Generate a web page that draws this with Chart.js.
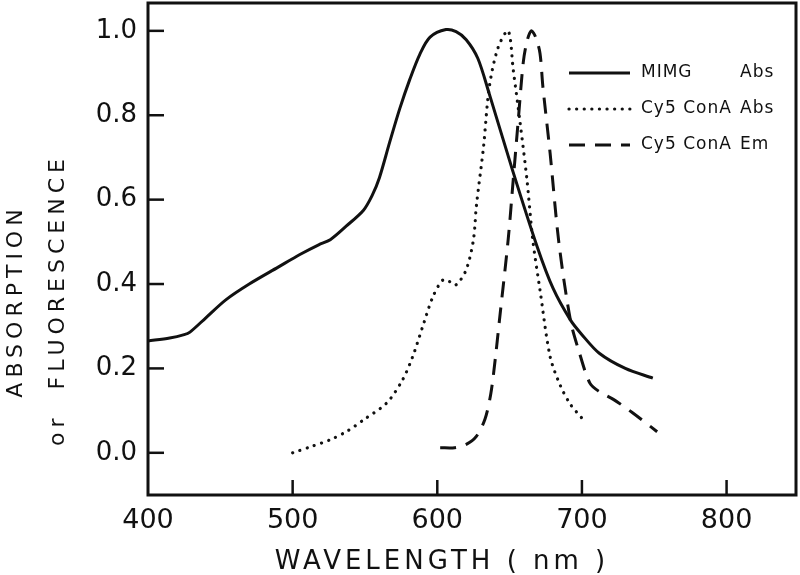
<!DOCTYPE html>
<html lang="en">
<head>
  <meta charset="UTF-8">
  <title>Absorption / Fluorescence spectra</title>
  <script src="https://cdn.jsdelivr.net/npm/chart.js"></script>
  <style>
    body { margin: 0; background: #fff; }
    canvas { display: block; }
  </style>
</head>
<body>
  <canvas id="spectraChart" width="800" height="575"></canvas>

  <script>
    // Wavelength (nm) and relative intensity for each curve
    const mimgWl  = [400, 415, 425, 429, 440, 454, 470, 490, 505, 518, 526, 537, 549, 555, 560, 567, 574, 581, 588, 595, 606, 613, 620, 628, 636, 652, 669, 680, 692, 700, 712, 730, 749];
    const mimgAbs = [0.265, 0.272, 0.28, 0.286, 0.32, 0.363, 0.40, 0.44, 0.47, 0.493, 0.505, 0.537, 0.575, 0.61, 0.652, 0.735, 0.815, 0.885, 0.945, 0.985, 1.003, 0.998, 0.979, 0.935, 0.85, 0.67, 0.489, 0.39, 0.315, 0.28, 0.236, 0.2, 0.177];

    const cy5AbsWl = [500, 513, 526, 538, 549, 565, 576, 583, 590, 597, 604, 609, 613, 620, 625, 627, 632, 636, 642, 649, 652.5, 657, 662, 666, 671, 678, 685, 692, 700];
    const cy5Abs   = [0.0, 0.015, 0.031, 0.052, 0.078, 0.118, 0.173, 0.228, 0.3, 0.37, 0.41, 0.405, 0.398, 0.434, 0.505, 0.584, 0.726, 0.868, 0.96, 1.0, 0.908, 0.789, 0.647, 0.505, 0.386, 0.228, 0.16, 0.115, 0.082];

    const cy5EmWl = [602, 612, 620, 627, 633, 637, 640, 643, 649, 652.5, 656, 659.4, 662, 665, 668, 671, 673, 678, 684, 692, 698, 705.5, 712, 722, 735, 752];
    const cy5Em   = [0.012, 0.012, 0.02, 0.039, 0.08, 0.14, 0.22, 0.315, 0.505, 0.647, 0.789, 0.924, 0.975, 1.0, 0.985, 0.947, 0.868, 0.71, 0.5, 0.315, 0.24, 0.165, 0.145, 0.126, 0.095, 0.05];

    const xTicks = [500, 600, 700, 800];
    const yTicks = [0, 0.2, 0.4, 0.6, 0.8, 1.0];
    const legendLabels = [["MIMG", "Abs"], ["Cy5 ConA", "Abs"], ["Cy5 ConA", "Em"]];

    const ink = '#111';
    const font = '"DejaVu Sans", sans-serif';

    function toPoints(xs, ys) {
      return xs.map((x, i) => ({ x: x, y: ys[i] }));
    }

    // frame, inward ticks, axis titles and legend
    const decorations = {
      id: 'decorations',
      afterDraw(chart) {
        const ctx = chart.ctx;
        const a = chart.chartArea;
        const xs = chart.scales.x;
        const ys = chart.scales.y;
        ctx.save();
        ctx.strokeStyle = ink;
        ctx.fillStyle = ink;
        ctx.lineWidth = 3;
        ctx.strokeRect(a.left, a.top, a.right - a.left, a.bottom - a.top);

        // ticks pointing into the plot
        ctx.lineWidth = 2.5;
        xTicks.forEach(v => {
          const px = xs.getPixelForValue(v);
          ctx.beginPath();
          ctx.moveTo(px, a.bottom);
          ctx.lineTo(px, a.bottom - 15);
          ctx.stroke();
        });
        yTicks.forEach(v => {
          const py = ys.getPixelForValue(v);
          ctx.beginPath();
          ctx.moveTo(a.left, py);
          ctx.lineTo(a.left + 16, py);
          ctx.stroke();
        });

        // axis titles
        ctx.letterSpacing = '4px';
        ctx.font = '26px ' + font;
        ctx.textAlign = 'center';
        ctx.textBaseline = 'middle';
        ctx.fillText('WAVELENGTH ( nm )', 442, 562);

        ctx.font = '22px ' + font;
        ctx.letterSpacing = '5px';
        ctx.save();
        ctx.translate(16, 301);
        ctx.rotate(-Math.PI / 2);
        ctx.fillText('ABSORPTION', 0, 0);
        ctx.restore();
        ctx.save();
        ctx.translate(58, 300);
        ctx.rotate(-Math.PI / 2);
        ctx.fillText('or  FLUORESCENCE', 0, 0);
        ctx.restore();

        // legend
        ctx.letterSpacing = '1px';
        ctx.font = '17px ' + font;
        ctx.textAlign = 'left';
        const rows = [73, 109, 145];
        chart.data.datasets.forEach((ds, i) => {
          ctx.save();
          ctx.lineWidth = ds.borderWidth;
          ctx.lineCap = ds.borderCapStyle || 'butt';
          ctx.setLineDash(ds.borderDash || []);
          ctx.beginPath();
          ctx.moveTo(569, rows[i]);
          ctx.lineTo(630, rows[i]);
          ctx.stroke();
          ctx.restore();
          ctx.fillText(legendLabels[i][0], 641, rows[i]);
          ctx.fillText(legendLabels[i][1], 740, rows[i]);
        });
        ctx.restore();
      }
    };

    new Chart(document.getElementById('spectraChart'), {
      type: 'scatter',
      data: {
        datasets: [
          {
            label: 'MIMG Abs',
            data: toPoints(mimgWl, mimgAbs),
            borderColor: ink,
            borderWidth: 3,
            borderDash: []
          },
          {
            label: 'Cy5 ConA Abs',
            data: toPoints(cy5AbsWl, cy5Abs),
            borderColor: ink,
            borderWidth: 3.2,
            borderDash: [0.1, 7.5],
            borderCapStyle: 'round'
          },
          {
            label: 'Cy5 ConA Em',
            data: toPoints(cy5EmWl, cy5Em),
            borderColor: ink,
            borderWidth: 3,
            borderDash: [16, 10]
          }
        ].map(ds => Object.assign(ds, {
          showLine: true,
          pointRadius: 0,
          fill: false,
          tension: 0.3
        }))
      },
      options: {
        responsive: false,
        animation: false,
        layout: { padding: { top: 3, right: 4, left: 0, bottom: 0 } },
        plugins: {
          legend: { display: false },
          tooltip: { enabled: false }
        },
        scales: {
          x: {
            type: 'linear',
            min: 400,
            max: 848,
            afterBuildTicks: s => { s.ticks = [400].concat(xTicks).map(v => ({ value: v })); },
            afterFit: s => { s.height = 80; s.paddingLeft = 0; s.paddingRight = 0; },
            grid: { display: false, drawTicks: false },
            border: { display: false },
            ticks: {
              color: ink,
              padding: 10,
              font: { family: font, size: 27 },
              maxRotation: 0
            }
          },
          y: {
            min: -0.1,
            max: 1.066,
            afterBuildTicks: s => { s.ticks = yTicks.map(v => ({ value: v })); },
            afterFit: s => { s.width = 148; s.paddingTop = 0; s.paddingBottom = 0; },
            grid: { display: false, drawTicks: false },
            border: { display: false },
            ticks: {
              color: ink,
              padding: 11,
              font: { family: font, size: 26 },
              callback: v => v.toFixed(1)
            }
          }
        }
      },
      plugins: [decorations]
    });
  </script>
</body>
</html>
